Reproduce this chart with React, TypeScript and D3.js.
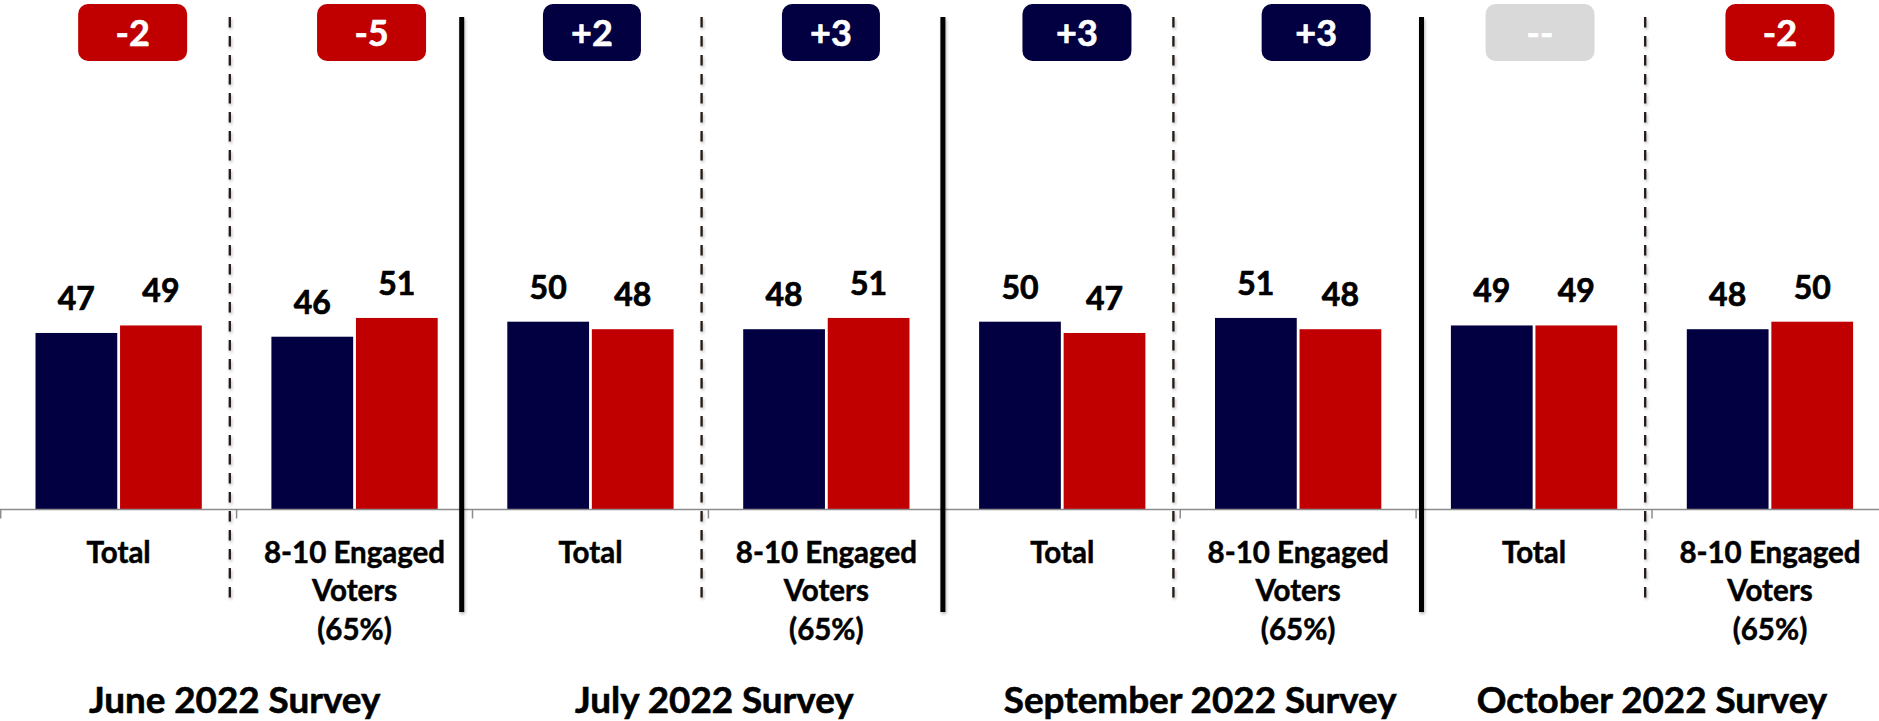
import React from "react";
import * as d3 from "d3";

// ---------- data ----------
const surveys = ["June 2022 Survey", "July 2022 Survey", "September 2022 Survey", "October 2022 Survey"];
const groups = ["Total", "8-10 Engaged Voters (65%)"];
const groupLines = [["Total"], ["8-10 Engaged", "Voters", "(65%)"]];
const series = ["Democrat", "Republican"];
const demValues = [47, 46, 50, 48, 50, 51, 49, 48];
const repValues = [49, 51, 48, 51, 47, 48, 49, 50];
const badgeLabels = ["-2", "-5", "+2", "+3", "+3", "+3", "--", "-2"];

// ---------- layout / style ----------
const W = 1879;
const H = 721;
const X0 = 0.7;
const STEP = 235.9;
const BASE_Y = 509.5;
const TOP_Y = 133.9;
const NAVY = "#020040";
const RED = "#C00000";
const GRAY_BADGE = "#D9D9D9";
const FONT = "Lato, 'Open Sans', sans-serif";
const badgeDx = [14, 17, 1.5, 4.6, 14.7, 18, 6, 10];
const badgeW = [109, 109, 98, 98, 109, 109, 109, 109];
const solidDx = [-10.8, -1.4, 5.4];
const titleDx = [-2, 6, 20, 0];

type Row = { key: string; survey: string; group: string; gi: number; dem: number; rep: number; badge: string };

const rows: Row[] = [];
surveys.forEach((s, si) => {
  groups.forEach((g, gi) => {
    const i = si * groups.length + gi;
    rows.push({ key: s + "|" + g, survey: s, group: g, gi, dem: demValues[i], rep: repValues[i], badge: badgeLabels[i] });
  });
});

export default function App() {
  const x = d3
    .scaleBand<string>()
    .domain(rows.map((r) => r.key))
    .range([X0, X0 + STEP * rows.length])
    .padding(0);
  const x1 = d3
    .scaleBand<string>()
    .domain(series)
    .range([34.8, STEP - 34.8])
    .paddingInner(0.033)
    .paddingOuter(0);
  const y = d3.scaleLinear().domain([0, 100]).range([BASE_Y, TOP_Y]);
  const colors = d3.scaleOrdinal<string, string>().domain(series).range([NAVY, RED]);

  const boundaries = d3.range(rows.length + 1).map((i) => X0 + i * STEP);

  return (
    <svg
      width={W}
      height={H}
      viewBox={`0 0 ${W} ${H}`}
      style={{ position: "absolute", left: 0, top: 0, background: "#fff" }}
      fontFamily={FONT}
    >
      <defs>
        <filter id="sh" filterUnits="userSpaceOnUse" x={0} y={0} width={W} height={H}>
          <feDropShadow dx="1" dy="2" stdDeviation="1.6" floodColor="#000" floodOpacity="0.28" />
        </filter>
      </defs>
      <rect x={0} y={0} width={W} height={H} fill="#fff" />

      {/* bars */}
      {rows.map((r) => {
        const vals = [r.dem, r.rep];
        return (
          <g key={r.key} transform={`translate(${x(r.key)},0)`}>
            {series.map((s, k) => (
              <rect
                key={s}
                x={x1(s)}
                y={y(vals[k])}
                width={x1.bandwidth()}
                height={y(0) - y(vals[k])}
                fill={colors(s)}
              />
            ))}
            {series.map((s, k) => (
              <text
                key={s + "l"}
                x={(x1(s) as number) + x1.bandwidth() / 2}
                y={y(vals[k]) - 23}
                textAnchor="middle"
                fontSize={32}
                fontWeight={700}
                fill="#000"
                stroke="#000"
                strokeWidth={0.7}
              >
                {vals[k]}
              </text>
            ))}
          </g>
        );
      })}

      {/* axis */}
      <line x1={0} x2={W} y1={BASE_Y} y2={BASE_Y} stroke="#8c8c8c" strokeWidth={1.5} />
      {boundaries.map((b, i) => (
        <line key={i} x1={b} x2={b} y1={BASE_Y} y2={BASE_Y + 9} stroke="#8c8c8c" strokeWidth={1.5} />
      ))}

      {/* category labels */}
      {rows.map((r) => {
        const cx = (x(r.key) as number) + x.bandwidth() / 2;
        return (
          <text
            key={r.key + "t"}
            textAnchor="middle"
            fontSize={29.5}
            fontWeight={700}
            fill="#000"
            stroke="#000"
            strokeWidth={0.5}
          >
            {groupLines[r.gi].map((ln, li) => (
              <tspan key={li} x={cx} y={562.7 + li * 38.7}>
                {ln}
              </tspan>
            ))}
          </text>
        );
      })}

      {/* separators */}
      {surveys.map((s, si) => {
        const bx = boundaries[si * 2 + 1] - 6.8;
        return (
          <line
            key={s + "d"}
            x1={bx}
            x2={bx}
            y1={17}
            y2={606}
            stroke="#231a15"
            strokeWidth={2.3}
            strokeDasharray="10.5 8.5"
            filter="url(#sh)"
          />
        );
      })}
      {solidDx.map((dx, i) => {
        const bx = boundaries[(i + 1) * 2] + dx;
        return (
          <line key={"s" + i} x1={bx} x2={bx} y1={17} y2={612} stroke="#000" strokeWidth={5} filter="url(#sh)" />
        );
      })}

      {/* badges */}
      {rows.map((r, i) => {
        const cx = (x(r.key) as number) + x.bandwidth() / 2 + badgeDx[i];
        const fill = r.badge === "--" ? GRAY_BADGE : r.badge.startsWith("+") ? NAVY : RED;
        return (
          <g key={r.key + "b"}>
            <rect x={cx - badgeW[i] / 2} y={4} width={badgeW[i]} height={57} rx={10} ry={10} fill={fill} />
            <text
              x={cx}
              y={46}
              textAnchor="middle"
              fontSize={36}
              fontWeight={700}
              fill="#fff"
              stroke="#fff"
              strokeWidth={0.6}
            >
              {r.badge}
            </text>
          </g>
        );
      })}

      {/* survey titles */}
      {surveys.map((s, si) => (
        <text
          key={s}
          x={boundaries[si * 2 + 1] + titleDx[si]}
          y={713}
          textAnchor="middle"
          fontSize={36.8}
          fontWeight={700}
          fill="#000"
          stroke="#000"
          strokeWidth={0.6}
        >
          {s}
        </text>
      ))}
    </svg>
  );
}
